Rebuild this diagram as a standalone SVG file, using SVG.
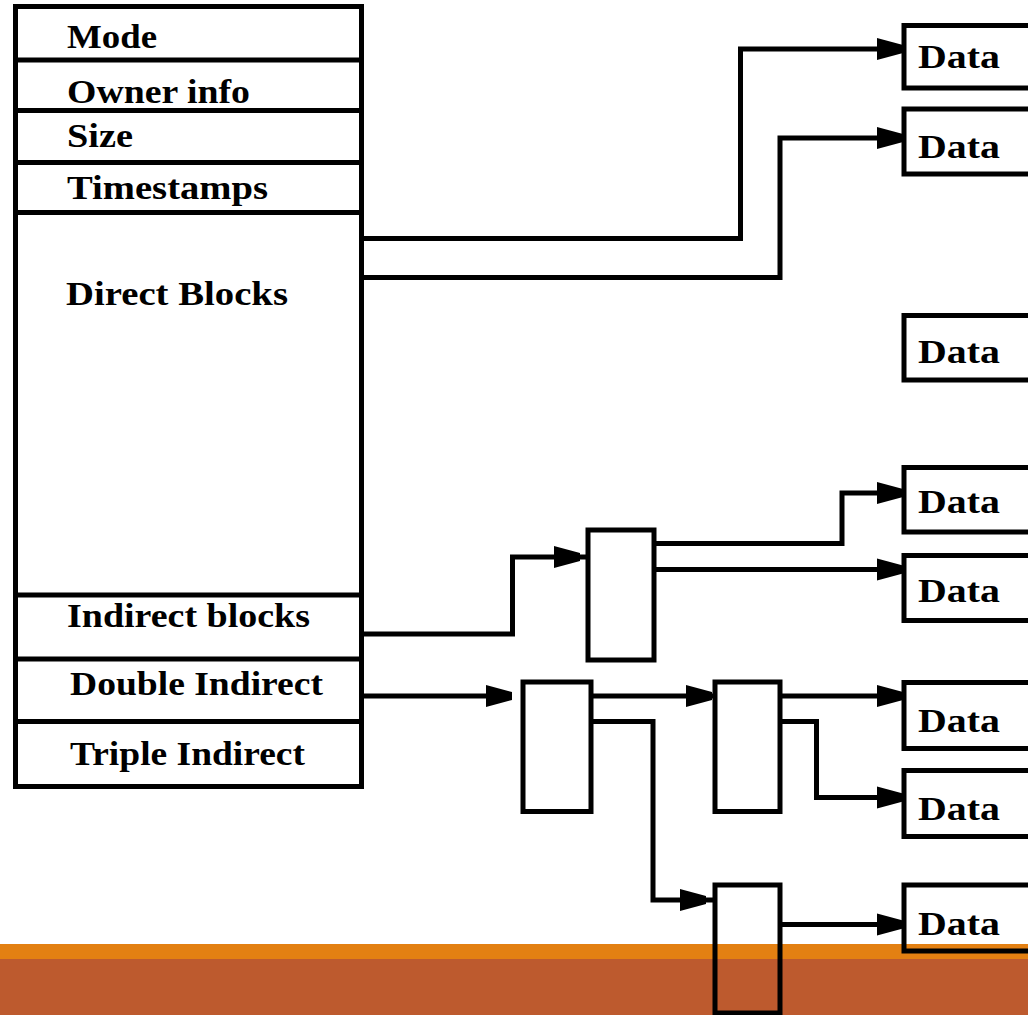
<svg xmlns="http://www.w3.org/2000/svg" xmlns:xlink="http://www.w3.org/1999/xlink" width="1028" height="1015" viewBox="0 0 1028 1015">
  <style>
    .box { fill: none; stroke: #000; stroke-width: 5; }
    .wire { fill: none; stroke: #000; stroke-width: 5; stroke-linejoin: miter; stroke-linecap: square; }
    .lbl { font-family: "Liberation Serif", "Times New Roman", serif; font-size: 34px; font-weight: bold; fill: #000; }
    .head { fill: #000; }
  </style>
  <defs>
    <!-- arrowhead drawn with its tip at the origin, pointing right -->
    <path id="ah" d="M0,-4 L-26,-11 L-26,11 L0,4 Z"/>
  </defs>

  <rect width="1028" height="1015" fill="#fff"/>

  <!-- footer bands -->
  <rect x="0" y="944" width="1028" height="15" fill="#E38012"/>
  <rect x="0" y="959" width="1028" height="56" fill="#BD5A2E"/>

  <!-- inode table -->
  <g id="inode">
    <rect class="box" x="15.5" y="6.5" width="346" height="780"/>
    <line class="box" x1="15.5" y1="60" x2="361.5" y2="60"/>
    <line class="box" x1="15.5" y1="110.5" x2="361.5" y2="110.5"/>
    <line class="box" x1="15.5" y1="162.5" x2="361.5" y2="162.5"/>
    <line class="box" x1="15.5" y1="212.5" x2="361.5" y2="212.5"/>
    <line class="box" x1="15.5" y1="595" x2="361.5" y2="595"/>
    <line class="box" x1="15.5" y1="659" x2="361.5" y2="659"/>
    <line class="box" x1="15.5" y1="721.5" x2="361.5" y2="721.5"/>
    <text class="lbl" x="67" y="48" textLength="90" lengthAdjust="spacingAndGlyphs">Mode</text>
    <text class="lbl" x="67" y="103" textLength="183" lengthAdjust="spacingAndGlyphs">Owner info</text>
    <text class="lbl" x="67" y="147" textLength="66" lengthAdjust="spacingAndGlyphs">Size</text>
    <text class="lbl" x="67" y="199" textLength="201" lengthAdjust="spacingAndGlyphs">Timestamps</text>
    <text class="lbl" x="66" y="305" textLength="222" lengthAdjust="spacingAndGlyphs">Direct Blocks</text>
    <text class="lbl" x="67" y="627" textLength="243" lengthAdjust="spacingAndGlyphs">Indirect blocks</text>
    <text class="lbl" x="70" y="695" textLength="253" lengthAdjust="spacingAndGlyphs">Double Indirect</text>
    <text class="lbl" x="70" y="765" textLength="235" lengthAdjust="spacingAndGlyphs">Triple Indirect</text>
  </g>

  <!-- pointer blocks -->
  <g id="indirect"><rect class="box" x="588" y="530" width="66" height="130"/></g>
  <g id="dbl-1"><rect class="box" x="523" y="682" width="68" height="129.5"/></g>
  <g id="dbl-2a"><rect class="box" x="715" y="682" width="65" height="129.5"/></g>
  <g id="dbl-2b"><rect class="box" x="715" y="885" width="65" height="128"/></g>

  <!-- data blocks -->
  <g id="data-1"><rect class="box" x="904" y="25.5" width="140" height="62.5"/><text class="lbl" x="918" y="68" textLength="82" lengthAdjust="spacingAndGlyphs">Data</text></g>
  <g id="data-2"><rect class="box" x="904" y="109" width="140" height="65"/><text class="lbl" x="918" y="158" textLength="82" lengthAdjust="spacingAndGlyphs">Data</text></g>
  <g id="data-3"><rect class="box" x="904" y="315.5" width="140" height="64.5"/><text class="lbl" x="918" y="363" textLength="82" lengthAdjust="spacingAndGlyphs">Data</text></g>
  <g id="data-4"><rect class="box" x="904" y="467.5" width="140" height="64.5"/><text class="lbl" x="918" y="513" textLength="82" lengthAdjust="spacingAndGlyphs">Data</text></g>
  <g id="data-5"><rect class="box" x="904" y="555.5" width="140" height="65"/><text class="lbl" x="918" y="602" textLength="82" lengthAdjust="spacingAndGlyphs">Data</text></g>
  <g id="data-6"><rect class="box" x="904" y="682.5" width="140" height="66"/><text class="lbl" x="918" y="732" textLength="82" lengthAdjust="spacingAndGlyphs">Data</text></g>
  <g id="data-7"><rect class="box" x="904" y="770.5" width="140" height="66"/><text class="lbl" x="918" y="820" textLength="82" lengthAdjust="spacingAndGlyphs">Data</text></g>
  <g id="data-8"><rect class="box" x="904" y="885" width="140" height="66"/><text class="lbl" x="918" y="935" textLength="82" lengthAdjust="spacingAndGlyphs">Data</text></g>

  <!-- connectors -->
  <g id="connectors">
    <polyline class="wire" points="364,238.5 740.5,238.5 740.5,49 880,49"/>
    <polyline class="wire" points="364,277.5 780,277.5 780,138 880,138"/>
    <polyline class="wire" points="364,634 512.5,634 512.5,557 586,557"/>
    <polyline class="wire" points="656,543.5 842,543.5 842,493 880,493"/>
    <line class="wire" x1="656" y1="569.5" x2="880" y2="569.5"/>
    <line class="wire" x1="364" y1="696" x2="490" y2="696"/>
    <line class="wire" x1="593" y1="696" x2="713" y2="696"/>
    <polyline class="wire" points="593,721.5 653,721.5 653,900 713,900"/>
    <line class="wire" x1="782" y1="696" x2="880" y2="696"/>
    <polyline class="wire" points="782,721.5 816.5,721.5 816.5,797.5 880,797.5"/>
    <line class="wire" x1="782" y1="924.5" x2="880" y2="924.5"/>

    <use class="head" xlink:href="#ah" x="903" y="49"/>
    <use class="head" xlink:href="#ah" x="903" y="138"/>
    <use class="head" xlink:href="#ah" x="903" y="493"/>
    <use class="head" xlink:href="#ah" x="903" y="569.5"/>
    <use class="head" xlink:href="#ah" x="903" y="696"/>
    <use class="head" xlink:href="#ah" x="903" y="797.5"/>
    <use class="head" xlink:href="#ah" x="903" y="924.5"/>
    <use class="head" xlink:href="#ah" x="580" y="557"/>
    <use class="head" xlink:href="#ah" x="512" y="696"/>
    <use class="head" xlink:href="#ah" x="712" y="696"/>
    <use class="head" xlink:href="#ah" x="706" y="900"/>
  </g>
</svg>
